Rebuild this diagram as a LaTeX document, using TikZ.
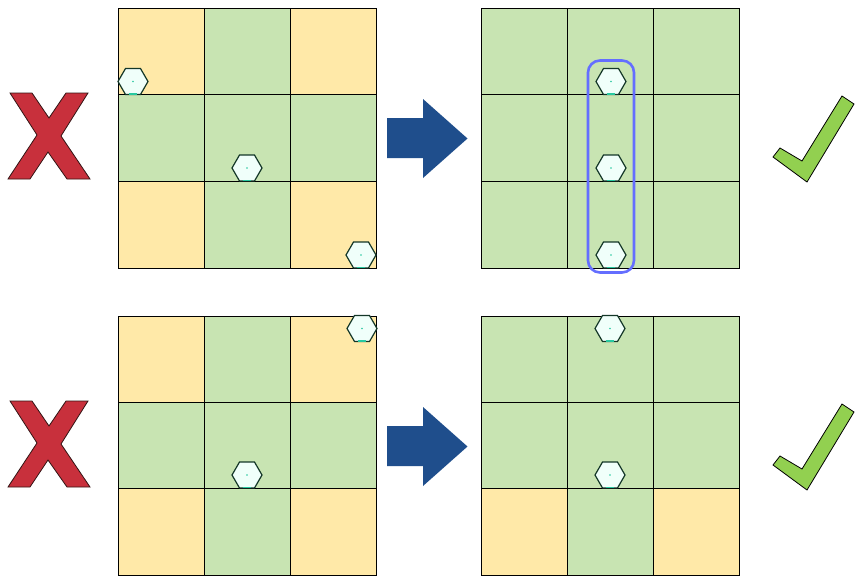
\documentclass[tikz,border=0pt]{standalone}
\usetikzlibrary{shapes.geometric}
\definecolor{cellY}{RGB}{255,233,168}
\definecolor{cellG}{RGB}{200,228,178}
\definecolor{xred}{RGB}{200,48,60}
\definecolor{xedge}{RGB}{50,20,20}
\definecolor{arrowblue}{RGB}{31,78,140}
\definecolor{checkgreen}{RGB}{146,208,80}
\definecolor{selblue}{RGB}{100,110,255}
\definecolor{hexline}{RGB}{20,55,40}
\definecolor{hexfill}{RGB}{240,255,250}
\definecolor{hexdot}{RGB}{40,200,160}
\newcommand\gridcells[5]{%
  \foreach \cl [count=\i from 0] in {#5}{%
    \pgfmathtruncatemacro\rr{div(\i,3)}%
    \pgfmathtruncatemacro\cc{mod(\i,3)}%
    \node[cell,fill=\cl,minimum height=#4 pt] (#1-\rr\cc) at ({#2+86.2*(\cc+0.5)},{#3+#4*(\rr+0.5)}) {};
  }}
\newcommand\hexmark[2]{%
  \node[hex] (#1) at (#2) {};
  \fill[hexdot] (#1.center) circle (0.8);
  \draw[hexdot,line width=1.4pt] ([xshift=-4pt,yshift=1.2pt]#1.south) -- ([xshift=4pt,yshift=1.2pt]#1.south);
}
\begin{document}
\begin{tikzpicture}[x=1pt,y=-1pt,
  cell/.style={draw=black,line width=0.9pt,minimum width=86.2pt,inner sep=0pt,outer sep=0pt},
  hex/.style={regular polygon,regular polygon sides=6,minimum size=30pt,inner sep=0pt,draw=hexline,fill=hexfill,line width=1.2pt},
  sel/.style={draw=selblue,line width=2.6pt,rounded corners=12pt,minimum width=46pt,minimum height=212pt,inner sep=0pt},
  xmark/.style={fill=xred,draw=xedge,line width=0.8pt,line join=miter},
  bigarrow/.style={fill=arrowblue,draw=none},
  vmark/.style={fill=checkgreen,draw=black,line width=0.8pt,line join=miter}]
\useasboundingbox (0,0) rectangle (864,581);
\fill[white] (0,0) rectangle (864,581);
% grids
\gridcells{ga}{118}{8}{86.67}{cellY,cellG,cellY,cellG,cellG,cellG,cellY,cellG,cellY}
\gridcells{gb}{481}{8}{86.67}{cellG,cellG,cellG,cellG,cellG,cellG,cellG,cellG,cellG}
\gridcells{gc}{118}{316}{86.33}{cellY,cellG,cellY,cellG,cellG,cellG,cellY,cellG,cellY}
\gridcells{gd}{481}{316}{86.33}{cellG,cellG,cellG,cellG,cellG,cellG,cellY,cellG,cellY}
% hexagons
\hexmark{ha1}{133,81.5}
\hexmark{ha2}{247,168}
\hexmark{ha3}{361,255}
\hexmark{hb1}{611,81.5}
\hexmark{hb2}{611,168}
\hexmark{hb3}{611,255}
\hexmark{hc1}{362,328.5}
\hexmark{hc2}{247,475}
\hexmark{hd1}{610,328.5}
\hexmark{hd2}{610,475}
% selection
\node[sel] (selbox) at (611,166.5) {};
% X marks
\foreach \dy in {0,308}{
  \draw[xmark] (10,93+\dy) -- (32,93+\dy) -- (49,118+\dy) -- (66,93+\dy) -- (88,93+\dy) -- (61,136+\dy) -- (90,179+\dy) -- (67,179+\dy) -- (48,152+\dy) -- (30,179+\dy) -- (8,179+\dy) -- (37,135+\dy) -- cycle;
}
% arrows
\foreach \dy in {0,308}{
  \fill[bigarrow] (387,118+\dy) -- (423,118+\dy) -- (423,99+\dy) -- (467.5,138.5+\dy) -- (423,178+\dy) -- (423,158+\dy) -- (387,158+\dy) -- cycle;
}
% check marks
\foreach \dy in {0,308}{
  \draw[vmark] (842,96+\dy) -- (854,104+\dy) -- (807,182+\dy) -- (773,157+\dy) -- (780,148+\dy) -- (802,161+\dy) -- cycle;
}
\end{tikzpicture}
\end{document}
